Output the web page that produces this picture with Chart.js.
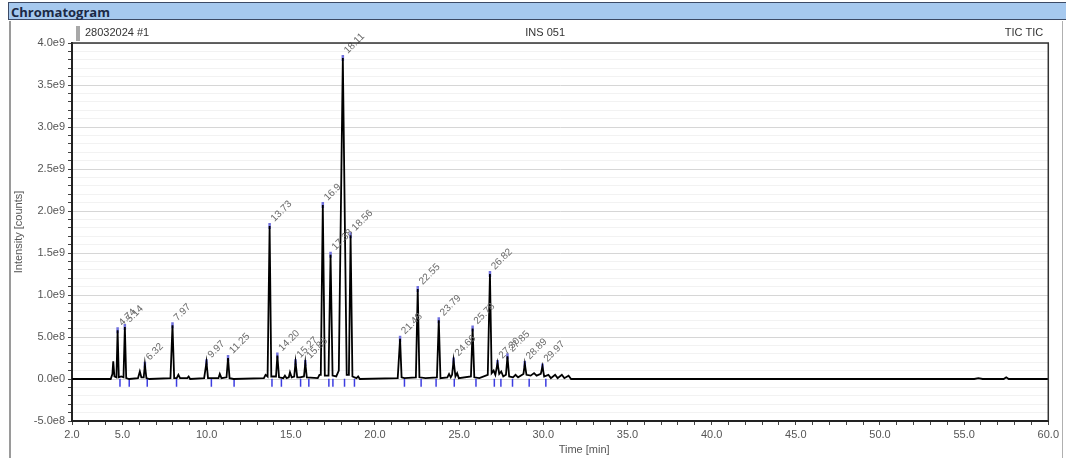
<!DOCTYPE html>
<html>
<head>
<meta charset="utf-8">
<title>Chromatogram</title>
<script src="https://cdn.jsdelivr.net/npm/chart.js@4.4.1/dist/chart.umd.min.js"></script>
<style>
  body { margin: 0; background: #fff; font-family: "Liberation Sans", Arial, sans-serif; }
  #titlebar {
    position: absolute; left: 8px; top: 2px; width: 1058px; height: 18px;
    background: #a6c9ef; border: 1px solid #3c4a66; border-right: none;
    font: bold 13px "Open Sans", "DejaVu Sans", sans-serif; color: #1b2945;
    line-height: 18px; padding-left: 2px; box-sizing: border-box;
  }
  #panel {
    position: absolute; left: 9px; top: 21px; width: 1054px; height: 437px;
    border-left: 2px solid #9a9a9a; border-right: 1px solid #b0b0b0;
    box-sizing: border-box;
  }
  #chartBox { position: absolute; left: 10px; top: 22px; width: 1052px; height: 435px; }
</style>
</head>
<body>
<div id="titlebar">Chromatogram</div>
<div id="panel"></div>
<div id="chartBox"><canvas id="chromChart"></canvas></div>
<script>
// Trace (time in min, intensity in 1e9 counts)
const traceTime = [
  2.00, 4.30, 4.40, 4.45, 4.52, 4.64, 4.71, 4.78, 4.92, 5.06, 5.14, 5.22, 5.40,
  5.92, 6.03, 6.12, 6.26, 6.33, 6.42, 6.60, 7.85, 7.97, 8.07, 8.22, 8.32, 8.42,
  8.85, 8.93, 9.02, 9.85, 9.99, 10.08, 10.70, 10.78, 10.88, 11.18, 11.27, 11.36, 11.60,
  13.40, 13.50, 13.62, 13.74, 13.84, 14.12, 14.20, 14.30, 14.55, 14.65, 14.75,
  14.88, 14.95, 15.05, 15.20, 15.28, 15.38, 15.55, 15.78, 15.86, 15.95,
  16.60, 16.70, 16.78, 16.90, 17.02, 17.24, 17.36, 17.48, 17.70, 17.85, 18.09, 18.32,
  18.45, 18.55, 18.66, 18.90, 19.00, 19.10,
  21.35, 21.49, 21.58, 21.75, 22.43, 22.54, 22.64, 23.00, 23.68, 23.79, 23.89,
  24.30, 24.40, 24.50, 24.58, 24.67, 24.78, 24.88, 24.98, 25.70, 25.80, 25.90, 26.20,
  26.70, 26.83, 26.93, 27.05, 27.15, 27.28, 27.38, 27.50, 27.62, 27.78, 27.87, 27.97,
  28.20, 28.35, 28.50, 28.82, 28.90, 29.00, 29.25, 29.45, 29.60, 29.85, 29.95, 30.05,
  30.30, 30.45, 30.70, 30.85, 31.10, 31.25, 31.50, 31.65, 32.00,
  55.60, 55.85, 56.10, 57.35, 57.50, 57.65, 60.00
];
const traceIntensity = [
  0.00, 0.00, 0.06, 0.21, 0.03, 0.02, 0.58, 0.02, 0.03, 0.02, 0.62, 0.01, 0.00,
  0.01, 0.09, 0.02, 0.02, 0.17, 0.01, 0.00, 0.01, 0.64, 0.01, 0.01, 0.05, 0.01,
  0.01, 0.03, 0.00, 0.01, 0.20, 0.01, 0.01, 0.06, 0.01, 0.02, 0.25, 0.01, 0.00,
  0.01, 0.05, 0.03, 1.82, 0.03, 0.03, 0.28, 0.02, 0.01, 0.04, 0.01,
  0.02, 0.08, 0.02, 0.03, 0.20, 0.02, 0.02, 0.03, 0.19, 0.02,
  0.01, 0.05, 0.05, 2.07, 0.04, 0.04, 1.48, 0.04, 0.03, 0.10, 3.82, 0.05,
  0.05, 1.71, 0.03, 0.01, 0.03, 0.00,
  0.01, 0.48, 0.02, 0.01, 0.02, 1.07, 0.02, 0.01, 0.02, 0.70, 0.01,
  0.02, 0.06, 0.02, 0.05, 0.22, 0.03, 0.07, 0.01, 0.03, 0.60, 0.02, 0.01,
  0.05, 1.25, 0.07, 0.10, 0.05, 0.19, 0.06, 0.09, 0.03, 0.05, 0.27, 0.03,
  0.02, 0.05, 0.02, 0.06, 0.18, 0.05, 0.04, 0.07, 0.04, 0.06, 0.15, 0.03,
  0.05, 0.01, 0.05, 0.01, 0.05, 0.01, 0.04, 0.00, 0.00,
  0.00, 0.01, 0.00, 0.00, 0.02, 0.00, 0.00
];

// Labelled peak apexes
const peakTimes = [4.71, 5.14, 6.33, 7.97, 9.99, 11.27, 13.74, 14.20, 15.28, 15.86, 16.90, 17.36,
  18.09, 18.55, 21.49, 22.54, 23.79, 24.67, 25.80, 26.83, 27.28, 27.87, 28.90, 29.95];
const peakHeights = [0.58, 0.62, 0.17, 0.64, 0.20, 0.25, 1.82, 0.28, 0.20, 0.19, 2.07, 1.48,
  3.82, 1.71, 0.48, 1.07, 0.70, 0.22, 0.60, 1.25, 0.19, 0.27, 0.18, 0.15];
const peakLabels = ['4.74', '5.14', '6.32', '7.97', '9.97', '11.25', '13.73', '14.20', '15.27', '15.85', '16.9', '17.38',
  '18.11', '18.56', '21.48', '22.55', '23.79', '24.66', '25.78', '26.82', '27.30', '27.85', '28.89', '29.97'];

// Integration delimiters under the baseline
const delimiterTimes = [4.85, 5.40, 6.47, 8.21, 10.28, 11.63, 13.88, 14.44, 15.58, 16.07, 17.26, 17.50,
  18.19, 18.78, 21.75, 22.74, 23.63, 24.71, 26.00, 27.09, 27.48, 28.17, 29.16, 30.15];

// Axis tick labels
const xTickLabels = [2, 5, 10, 15, 20, 25, 30, 35, 40, 45, 50, 55, 60];
const yTickLabels = [-5e8, 0, 5e8, 1e9, 1.5e9, 2e9, 2.5e9, 3e9, 3.5e9, 4e9];

const headerLeft = '28032024 #1';
const headerCenter = 'INS 051';
const headerRight = 'TIC TIC';
const xAxisTitle = 'Time [min]';

const E9 = 1e9;
const tickFont = { family: '"Liberation Sans", Arial, sans-serif', size: 11 };

// Draw the plot frame, header strings and rotated peak labels
const chromDecorations = {
  id: 'chromDecorations',
  afterDatasetsDraw(chart) {
    const ctx = chart.ctx;
    const meta = chart.getDatasetMeta(1);
    ctx.save();
    ctx.fillStyle = '#6a6a6a';
    ctx.font = '10px "Liberation Sans", Arial, sans-serif';
    ctx.textAlign = 'left';
    ctx.textBaseline = 'middle';
    meta.data.forEach((el, i) => {
      ctx.save();
      ctx.translate(el.x + 3, el.y - 6);
      ctx.rotate(-Math.PI / 4);
      ctx.fillText(peakLabels[i], 0, 0);
      ctx.restore();
    });
    ctx.restore();
  },
  afterDraw(chart) {
    const { ctx, chartArea } = chart;
    ctx.save();
    ctx.strokeStyle = '#333';
    ctx.lineWidth = 1.5;
    ctx.beginPath();
    ctx.moveTo(chartArea.left, chartArea.top);
    ctx.lineTo(chartArea.right, chartArea.top);
    ctx.lineTo(chartArea.right, chartArea.bottom);
    ctx.stroke();

    // little marker icon before the sample name
    ctx.fillStyle = '#a8a8a8';
    ctx.fillRect(chartArea.left + 4, chartArea.top - 17, 4, 15);

    ctx.fillStyle = '#333';
    ctx.font = '11px "Liberation Sans", Arial, sans-serif';
    ctx.textBaseline = 'middle';
    const y = chartArea.top - 10;
    ctx.textAlign = 'left';
    ctx.fillText(headerLeft, chartArea.left + 13, y);
    ctx.textAlign = 'center';
    ctx.fillText(headerCenter, (chartArea.left + chartArea.right) / 2 - 15, y);
    ctx.textAlign = 'right';
    ctx.fillText(headerRight, chartArea.right - 5, y);

    // axis title sits a little right of centre in the reference
    ctx.fillStyle = '#555';
    ctx.textAlign = 'center';
    ctx.fillText(xAxisTitle, (chartArea.left + chartArea.right) / 2 + 24, chart.height - 7);
    ctx.restore();
  }
};

document.addEventListener('DOMContentLoaded', () => {
  const ctx = document.getElementById('chromChart').getContext('2d');

  const tracePoints = traceTime.map((t, i) => ({ x: t, y: traceIntensity[i] * E9 }));
  const apexPoints = peakTimes.map((t, i) => ({ x: t, y: peakHeights[i] * E9 }));
  const delimiterPoints = delimiterTimes.map(t => ({ x: t, y: -0.045 * E9 }));

  new Chart(ctx, {
    type: 'line',
    data: {
      datasets: [
        {
          label: 'TIC',
          data: tracePoints,
          borderColor: '#000',
          borderWidth: 1.8,
          pointRadius: 0,
          tension: 0,
          fill: false
        },
        {
          type: 'scatter',
          label: 'apex',
          data: apexPoints,
          pointStyle: 'line',
          rotation: 90,
          radius: 3,
          borderColor: '#7070dd',
          borderWidth: 2.5
        },
        {
          type: 'scatter',
          label: 'delimiters',
          data: delimiterPoints,
          pointStyle: 'line',
          rotation: 90,
          radius: 4,
          borderColor: '#3d3de0',
          borderWidth: 1.5
        }
      ]
    },
    options: {
      responsive: true,
      maintainAspectRatio: false,
      animation: false,
      layout: { padding: { top: 21, right: 10, left: 0, bottom: 0 } },
      plugins: {
        legend: { display: false },
        tooltip: { enabled: false }
      },
      scales: {
        x: {
          type: 'linear',
          min: 2,
          max: 60,
          afterBuildTicks: scale => {
            const ticks = [];
            for (let m = 2; m <= 60; m++) ticks.push({ value: m });
            scale.ticks = ticks;
          },
          afterFit: scale => { scale.height = 36; },
          ticks: {
            autoSkip: false,
            maxRotation: 0,
            padding: 3,
            color: '#555',
            font: tickFont,
            callback: value => xTickLabels.includes(value) ? value.toFixed(1) : ''
          },
          grid: { drawOnChartArea: false, tickLength: 4, tickColor: '#444' },
          border: { color: '#222', width: 2 }
        },
        y: {
          min: -5e8,
          max: 4e9,
          afterBuildTicks: scale => {
            const ticks = [];
            for (let i = -5; i <= 40; i++) ticks.push({ value: i * 1e8 });
            scale.ticks = ticks;
          },
          afterFit: scale => { scale.width = 62; },
          ticks: {
            autoSkip: false,
            padding: 3,
            color: '#555',
            font: tickFont,
            callback: value => yTickLabels.includes(value)
              ? value.toExponential(1).replace('e+', 'e') : ''
          },
          grid: {
            color: c => (c.tick && c.tick.value % 5e8 === 0) ? '#d6d6d6' : '#f2f2f2',
            tickLength: 4,
            tickColor: '#444'
          },
          border: { color: '#222', width: 2 },
          title: {
            display: true,
            text: 'Intensity [counts]',
            color: '#555',
            font: tickFont,
            padding: { top: 2, bottom: 0 }
          }
        }
      }
    },
    plugins: [chromDecorations]
  });
});
</script>
</body>
</html>
